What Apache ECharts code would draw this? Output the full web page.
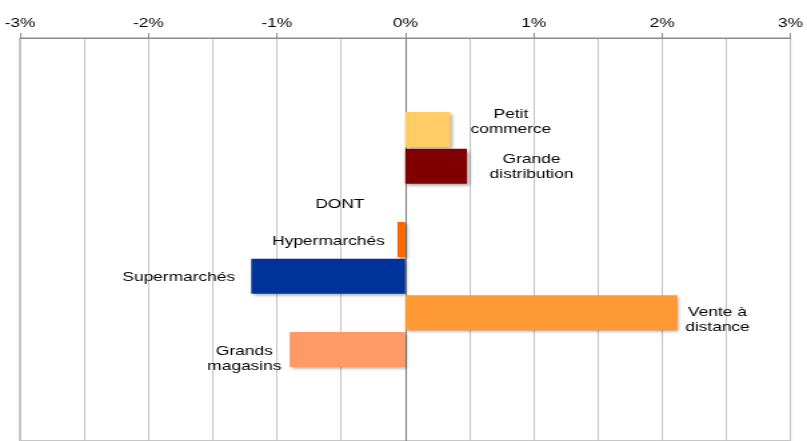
<!DOCTYPE html>
<html>
<head>
<meta charset="utf-8">
<script src="https://cdn.jsdelivr.net/npm/echarts@6/dist/echarts.min.js"></script>
<style>
html,body{margin:0;padding:0;background:#fff;overflow:hidden}
#wrap{width:807px;height:441px;overflow:hidden}
#c{width:605px;height:441px;transform:scaleX(1.33388);transform-origin:0 0}
</style>
</head>
<body>
<div id="wrap"><div id="c"></div></div>
<script>
var categories = ['', '', 'Petit\ncommerce', 'Grande\ndistribution', 'DONT', 'Hypermarchés', 'Supermarchés', 'Vente à\ndistance', 'Grands\nmagasins', '', ''];
var values = [null, null, 0.35, 0.48, 0, -0.06, -1.2, 2.12, -0.9, null, null];
var colors = [null, null, '#FFCC66', '#7F0000', 'rgba(0,0,0,0)', '#FF6600', '#003399', '#FF9933', '#FF9966', null, null];
var tickLabels = ['-3%', '-2%', '-1%', '0%', '1%', '2%', '3%'];

// label placement per category (style only)
var labelCfg = [null, null,
  {position: 'right', align: 'center', distance: 45.5, offset: [0, -8]},
  {position: 'right', align: 'center', distance: 48.5, offset: [0, 1]},
  {position: 'left', align: 'right', distance: 30.5, offset: [0, 2]},
  {position: 'left', align: 'right', distance: 9.5, offset: [0, 2]},
  {position: 'left', align: 'right', distance: 12, offset: [0, 1]},
  {position: 'right', align: 'center', distance: 30, offset: [0, 7]},
  {position: 'left', align: 'center', distance: 34, offset: [0, 10]},
  null, null];

var data = values.map(function (v, i) {
  if (v === null) return null;
  var lc = labelCfg[i];
  return {
    value: v,
    itemStyle: {color: colors[i]},
    label: {
      show: true,
      position: lc.position,
      align: lc.align,
      verticalAlign: 'middle',
      distance: lc.distance,
      offset: lc.offset,
      formatter: categories[i],
      fontFamily: 'Liberation Sans, Arial, sans-serif',
      fontSize: 13,
      lineHeight: 15,
      color: '#000'
    }
  };
});

var chart = echarts.init(document.getElementById('c'), null, {renderer: 'canvas'});
chart.setOption({
  animation: false,
  grid: {left: 15, right: 8.3, top: 38, height: 407, show: true, borderColor: '#8c8c8c', borderWidth: 1, containLabel: false},
  xAxis: {
    type: 'value',
    position: 'top',
    min: -3, max: 3, interval: 1,
    axisLine: {show: true, lineStyle: {color: '#8c8c8c', width: 1}},
    axisTick: {show: true, length: 5, lineStyle: {color: '#8c8c8c'}},
    axisLabel: {
      margin: 8,
      fontFamily: 'Liberation Sans, Arial, sans-serif',
      fontSize: 13, color: '#000',
      formatter: function (v) { return tickLabels[Math.round(v) + 3]; }
    },
    splitLine: {show: true, lineStyle: {color: '#c4c4c4', width: 1}},
    minorTick: {show: false, splitNumber: 2},
    minorSplitLine: {show: true, lineStyle: {color: '#c4c4c4', width: 1}}
  },
  yAxis: {
    type: 'category',
    inverse: true,
    data: categories,
    axisLine: {show: true, onZero: true, lineStyle: {color: '#7a7a7a', width: 1}},
    axisTick: {show: false},
    axisLabel: {show: false},
    splitLine: {show: false}
  },
  series: [{
    type: 'bar',
    data: data,
    barWidth: 35,
    itemStyle: {
      shadowColor: 'rgba(0,0,0,0.35)',
      shadowBlur: 3,
      shadowOffsetX: 1.5,
      shadowOffsetY: 2
    }
  }]
});
</script>
</body>
</html>
